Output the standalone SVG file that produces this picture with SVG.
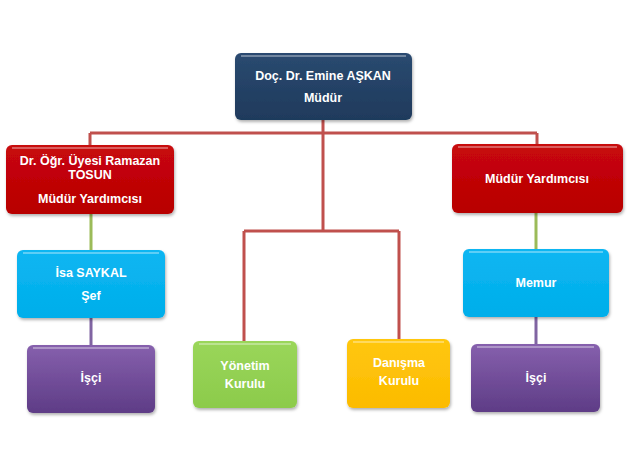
<svg xmlns="http://www.w3.org/2000/svg" width="639" height="460" viewBox="0 0 639 460">
<defs>
<linearGradient id="gNavy" x1="0" y1="0" x2="0" y2="1"><stop offset="0" stop-color="#2a4a70"/><stop offset="1" stop-color="#1f3a5c"/></linearGradient>
<linearGradient id="gRed" x1="0" y1="0" x2="0" y2="1"><stop offset="0" stop-color="#c8080d"/><stop offset="1" stop-color="#b80000"/></linearGradient>
<linearGradient id="gBlue" x1="0" y1="0" x2="0" y2="1"><stop offset="0" stop-color="#0db6f2"/><stop offset="1" stop-color="#00aeea"/></linearGradient>
<linearGradient id="gPurple" x1="0" y1="0" x2="0" y2="1"><stop offset="0" stop-color="#8660ad"/><stop offset="1" stop-color="#5e3c86"/></linearGradient>
<linearGradient id="gGreen" x1="0" y1="0" x2="0" y2="1"><stop offset="0" stop-color="#9ad65a"/><stop offset="1" stop-color="#8ccb4b"/></linearGradient>
<linearGradient id="gYellow" x1="0" y1="0" x2="0" y2="1"><stop offset="0" stop-color="#ffc70f"/><stop offset="1" stop-color="#fcbb00"/></linearGradient>
<filter id="sh" x="-10%" y="-10%" width="120%" height="130%"><feDropShadow dx="1" dy="2" stdDeviation="1.5" flood-color="#000" flood-opacity="0.3"/></filter>
</defs>
<style>
.box{filter:url(#sh);}
.hl{fill:none;stroke:#ffffff;stroke-opacity:0.45;stroke-width:1.5;}
.t{font-family:"Liberation Sans",Arial,sans-serif;font-weight:bold;font-size:12.5px;fill:#ffffff;text-anchor:middle;}
.red{stroke:#c0504d;stroke-width:3;fill:none;}
.grn{stroke:#9bbb59;stroke-width:3;fill:none;}
.pur{stroke:#8064a2;stroke-width:3;fill:none;}
</style>
<g id="connectors">
<path class="red" d="M323 119 V133 M90 133 H537 M90 133 V146 M537 133 V145 M323 133 V231 M244 231 H399 M244 231 V341 M399 231 V340"/>
<path class="grn" d="M91 214 V251 M536 213 V250"/>
<path class="pur" d="M91 318 V346 M536 317 V345"/>
</g>
<g id="n-mudur">
<rect class="box" x="235" y="53" width="177" height="67" rx="6" fill="url(#gNavy)"/>
<path class="hl" d="M241 56 H406"/>
<text class="t" x="323" y="80">Doç. Dr. Emine AŞKAN</text>
<text class="t" x="323" y="102">Müdür</text>
</g>
<g id="n-myard1">
<rect class="box" x="6" y="145" width="168" height="69" rx="6" fill="url(#gRed)"/>
<path class="hl" d="M12 148 H168"/>
<text class="t" x="90" y="165">Dr. Öğr. Üyesi Ramazan</text>
<text class="t" x="90" y="179">TOSUN</text>
<text class="t" x="90" y="203">Müdür Yardımcısı</text>
</g>
<g id="n-myard2">
<rect class="box" x="452" y="144" width="171" height="69" rx="6" fill="url(#gRed)"/>
<path class="hl" d="M458 147 H617"/>
<text class="t" x="537" y="183">Müdür Yardımcısı</text>
</g>
<g id="n-sef">
<rect class="box" x="17" y="250" width="148" height="68" rx="6" fill="url(#gBlue)"/>
<path class="hl" d="M23 253 H159"/>
<text class="t" x="91" y="277">İsa SAYKAL</text>
<text class="t" x="91" y="300">Şef</text>
</g>
<g id="n-isci1">
<rect class="box" x="27" y="345" width="128" height="68" rx="6" fill="url(#gPurple)"/>
<path class="hl" d="M33 348 H149"/>
<text class="t" x="91" y="382">İşçi</text>
</g>
<g id="n-yonetim">
<rect class="box" x="193" y="341" width="104" height="67" rx="6" fill="url(#gGreen)"/>
<path class="hl" d="M199 344 H291"/>
<text class="t" x="245" y="370">Yönetim</text>
<text class="t" x="245" y="388">Kurulu</text>
</g>
<g id="n-danisma">
<rect class="box" x="347" y="339" width="103" height="69" rx="6" fill="url(#gYellow)"/>
<path class="hl" d="M353 342 H444"/>
<text class="t" x="399" y="367">Danışma</text>
<text class="t" x="399" y="385">Kurulu</text>
</g>
<g id="n-memur">
<rect class="box" x="463" y="249" width="146" height="68" rx="6" fill="url(#gBlue)"/>
<path class="hl" d="M469 252 H603"/>
<text class="t" x="536" y="287">Memur</text>
</g>
<g id="n-isci2">
<rect class="box" x="471" y="344" width="129" height="68" rx="6" fill="url(#gPurple)"/>
<path class="hl" d="M477 347 H594"/>
<text class="t" x="536" y="382">İşçi</text>
</g>
</svg>
